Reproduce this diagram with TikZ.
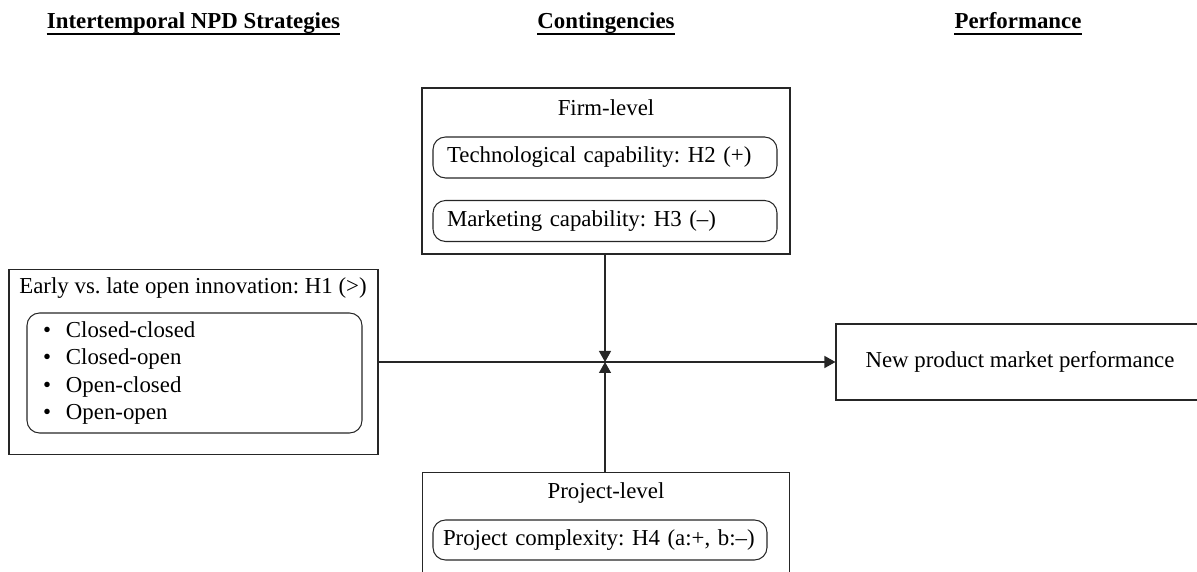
\documentclass[tikz,border=0pt]{standalone}
\usepackage{fontspec}
\setmainfont{Liberation Serif}
\usepackage{tikz}
\usetikzlibrary{arrows.meta}
\frenchspacing

\tikzset{
  outer/.style={draw=black!85, line width=0.6pt, rectangle},
  inner/.style={draw=black!85, line width=0.6pt, rounded corners=0.25cm, align=left},
  head/.style={font=\fontsize{13}{15.5}\selectfont\bfseries, anchor=base, inner xsep=0pt},
  link/.style={draw=black!85, line width=0.7pt},
  tip/.style={-{Triangle[length=0.22cm, width=0.24cm]}}
}

\begin{document}
\begin{tikzpicture}[font=\fontsize{13}{15.5}\selectfont]
\useasboundingbox (0,0) rectangle (23.94,11.44);
\clip (0,0) rectangle (23.94,11.44);

% column headings
\node [head] (h_strat) at (3.87,10.86) {Intertemporal NPD Strategies};
\node [head] (h_cont) at (12.12,10.86) {Contingencies};
\node [head] (h_perf) at (20.36,10.86) {Performance};

\draw [line width=1.1pt] ([yshift=-3pt]h_strat.base west)--([yshift=-3pt]h_strat.base east);
\draw [line width=1.1pt] ([yshift=-3pt]h_cont.base west)--([yshift=-3pt]h_cont.base east);
\draw [line width=1.1pt] ([yshift=-3pt]h_perf.base west)--([yshift=-3pt]h_perf.base east);

% firm-level
\node [outer, minimum width=7.36cm, minimum height=3.32cm] (firm_box) at (12.12,8.02) {};
\node (firm_lbl) at (12.12,9.28) {Firm-level};
\node [inner, text width=6.32cm, inner xsep=0.28cm, minimum height=0.82cm] (tech_cap) at (12.1,8.29) {Technological capability: H2 (+)};
\node [inner, text width=6.32cm, inner xsep=0.28cm, minimum height=0.82cm] (mkt_cap) at (12.1,7.02) {Marketing capability: H3 (--)};

% strategies
\node [outer, minimum width=7.38cm, minimum height=3.7cm] (npd_box) at (3.87,4.2) {};
\node (npd_lbl) at (3.86,5.68) {Early vs. late open innovation: H1 (>)};
\node [inner, text width=6.06cm, inner xsep=0.32cm, minimum height=2.4cm] (npd_list) at (3.89,3.98)
  {\textbullet\hspace{0.3cm}Closed-closed\\
   \textbullet\hspace{0.3cm}Closed-open\\
   \textbullet\hspace{0.3cm}Open-closed\\
   \textbullet\hspace{0.3cm}Open-open};

% performance
\node [outer, minimum width=7.36cm, minimum height=1.52cm] (perf_box) at (20.4,4.2) {New product market performance};

% project-level
\node [outer, minimum width=7.34cm, minimum height=2.4cm, anchor=north] (proj_box) at (12.12,2.0) {};
\node (proj_lbl) at (12.12,1.58) {Project-level};
\node [inner, text width=6.28cm, inner xsep=0.2cm, minimum height=0.8cm] (proj_cpx) at (12.0,0.64) {Project complexity: H4 (a:+, b:--)};

\coordinate (mod) at (12.1,4.2);

\draw [link, tip] (npd_box.east)--(perf_box.west);
\draw [link, tip] (firm_box.south -| mod)--(mod);
\draw [link, tip] (proj_box.north -| mod)--(mod);

\end{tikzpicture}
\end{document}
